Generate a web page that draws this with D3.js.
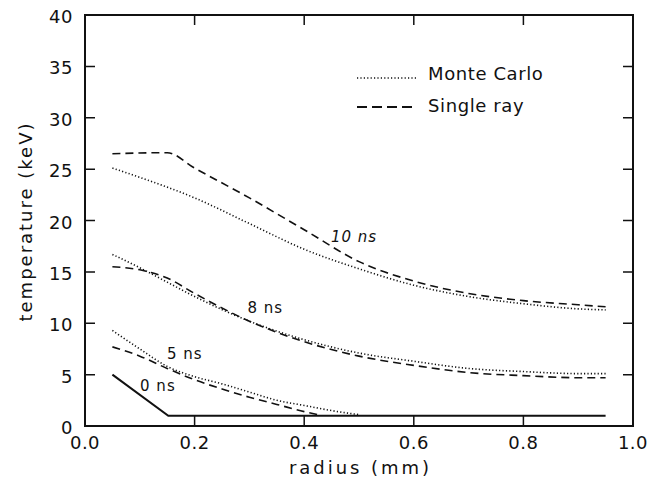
<!DOCTYPE html>
<html>
<head>
<meta charset="utf-8">
<script src="https://cdn.jsdelivr.net/npm/d3@7"></script>
<style>
  body { margin: 0; background: #fff; }
  text { font-family: "DejaVu Sans", sans-serif; fill: #111; }
</style>
</head>
<body>
<div id="chart"></div>
<script>
// data: radius (mm) and temperature (keV)
var xTicks = [0.0, 0.2, 0.4, 0.6, 0.8, 1.0];
var yTicks = [0, 5, 10, 15, 20, 25, 30, 35, 40];

var r0solid = [0.05, 0.152, 0.95];
var t0solid = [5.0, 1.0, 1.0];

var r5mc = [0.05, 0.1, 0.15, 0.2, 0.25, 0.3, 0.35, 0.4, 0.45, 0.5];
var t5mc = [9.3, 7.5, 5.8, 4.8, 4.1, 3.3, 2.5, 2.0, 1.5, 1.1];
var r5sr = [0.05, 0.1, 0.15, 0.2, 0.25, 0.3, 0.35, 0.4, 0.43];
var t5sr = [7.7, 6.8, 5.6, 4.5, 3.6, 2.8, 2.1, 1.4, 1.05];

var r8mc = [0.05, 0.1, 0.15, 0.2, 0.3, 0.4, 0.5, 0.6, 0.7, 0.8, 0.9, 0.95];
var t8mc = [16.7, 15.4, 14.0, 12.6, 10.2, 8.4, 7.1, 6.3, 5.6, 5.3, 5.1, 5.1];
var r8sr = [0.05, 0.1, 0.15, 0.2, 0.3, 0.4, 0.5, 0.6, 0.7, 0.8, 0.9, 0.95];
var t8sr = [15.5, 15.2, 14.4, 12.9, 10.2, 8.2, 6.8, 5.9, 5.2, 4.9, 4.7, 4.7];

var r10mc = [0.05, 0.1, 0.2, 0.3, 0.4, 0.5, 0.6, 0.7, 0.8, 0.9, 0.95];
var t10mc = [25.1, 24.2, 22.2, 19.7, 17.2, 15.3, 13.7, 12.6, 11.9, 11.4, 11.3];
var r10sr = [0.05, 0.15, 0.2, 0.3, 0.4, 0.5, 0.6, 0.7, 0.8, 0.9, 0.95];
var t10sr = [26.5, 26.6, 25.1, 22.2, 19.1, 16.0, 14.1, 12.9, 12.2, 11.8, 11.6];

var curveLabels = ["10 ns", "8 ns", "5 ns", "0 ns"];
var labelPos = [[0.491, 17.9], [0.329, 11.0], [0.182, 6.5], [0.133, 3.4]];

var legendNames = ["Monte Carlo", "Single ray"];

var W = 651, H = 488;
var margin = {top: 15, right: 18, bottom: 62, left: 85};
var w = W - margin.left - margin.right,
    h = H - margin.top - margin.bottom;

var svg = d3.select("#chart").append("svg")
  .attr("width", W).attr("height", H);
svg.append("rect").attr("width", W).attr("height", H).attr("fill", "#fff");

var g = svg.append("g")
  .attr("transform", "translate(" + margin.left + "," + margin.top + ")");

var x = d3.scaleLinear().domain([0, 1]).range([0, w]);
var y = d3.scaleLinear().domain([0, 40]).range([h, 0]);

// frame
g.append("rect")
  .attr("width", w).attr("height", h)
  .attr("fill", "none").attr("stroke", "#111").attr("stroke-width", 2);

// ticks pointing inward on all four sides
var tl = 10;
g.selectAll(".xt").data(xTicks.slice(1, -1)).enter().append("path")
  .attr("d", function(d) { return "M" + x(d) + "," + h + "v" + (-tl) + "M" + x(d) + ",0v" + tl; })
  .attr("stroke", "#111").attr("stroke-width", 1.5);
g.selectAll(".yt").data(yTicks.slice(1, -1)).enter().append("path")
  .attr("d", function(d) { return "M0," + y(d) + "h" + tl + "M" + w + "," + y(d) + "h" + (-tl); })
  .attr("stroke", "#111").attr("stroke-width", 1.5);

// tick labels
g.selectAll(".xl").data(xTicks).enter().append("text")
  .attr("x", function(d) { return x(d); })
  .attr("y", h + 23)
  .attr("text-anchor", "middle")
  .style("font-size", "18px")
  .style("letter-spacing", "0.5px")
  .text(function(d) { return d.toFixed(1); });

g.selectAll(".yl").data(yTicks).enter().append("text")
  .attr("x", -12)
  .attr("y", function(d) { return y(d) + 8; })
  .attr("text-anchor", "end")
  .style("font-size", "18px")
  .style("letter-spacing", "0.5px")
  .text(function(d) { return d; });

// axis titles
g.append("text")
  .attr("x", w / 2).attr("y", h + 48)
  .attr("text-anchor", "middle")
  .attr("textLength", 140).attr("lengthAdjust", "spacing")
  .style("font-size", "18px")
  .text("radius (mm)");

svg.append("text")
  .attr("transform", "translate(32," + (margin.top + h / 2 + 2) + ") rotate(-90)")
  .attr("text-anchor", "middle")
  .attr("textLength", 198).attr("lengthAdjust", "spacing")
  .style("font-size", "18px")
  .text("temperature (keV)");

// curves
var line = d3.line()
  .x(function(d) { return x(d[0]); })
  .y(function(d) { return y(d[1]); });
var smooth = d3.line()
  .x(function(d) { return x(d[0]); })
  .y(function(d) { return y(d[1]); })
  .curve(d3.curveMonotoneX);

function pairs(rs, ts) { return rs.map(function(r, i) { return [r, ts[i]]; }); }

var dotted = "1.2,2.2", dashed = "8,5";

function drawCurve(rs, ts, dash, gen) {
  g.append("path")
    .datum(pairs(rs, ts))
    .attr("d", gen)
    .attr("fill", "none")
    .attr("stroke", "#111")
    .attr("stroke-width", dash ? 1.6 : 2)
    .attr("stroke-dasharray", dash);
}

drawCurve(r0solid, t0solid, null, line);
drawCurve(r5mc, t5mc, dotted, smooth);
drawCurve(r5sr, t5sr, dashed, smooth);
drawCurve(r8mc, t8mc, dotted, smooth);
drawCurve(r8sr, t8sr, dashed, smooth);
drawCurve(r10mc, t10mc, dotted, smooth);
drawCurve(r10sr, t10sr, dashed, smooth);

// curve labels
g.selectAll(".cl").data(curveLabels).enter().append("text")
  .attr("x", function(d, i) { return x(labelPos[i][0]); })
  .attr("y", function(d, i) { return y(labelPos[i][1]); })
  .attr("text-anchor", "middle")
  .style("font-size", "15px")
  .style("letter-spacing", "1px")
  .style("font-style", function(d, i) { return i === 0 ? "italic" : "normal"; })
  .text(function(d) { return d; });

// legend
var legend = svg.append("g").attr("transform", "translate(357,0)");
var legY = [78, 107];
legend.selectAll("line").data(legendNames).enter().append("line")
  .attr("x1", 0).attr("x2", 60)
  .attr("y1", function(d, i) { return legY[i]; })
  .attr("y2", function(d, i) { return legY[i]; })
  .attr("stroke", "#111")
  .attr("stroke-width", function(d, i) { return i === 0 ? 1.6 : 2; })
  .attr("stroke-dasharray", function(d, i) { return i === 0 ? dotted : "10,5"; });
legend.selectAll("text").data(legendNames).enter().append("text")
  .attr("x", 71)
  .attr("y", function(d, i) { return i === 0 ? 80 : 112; })
  .style("font-size", "18px")
  .style("letter-spacing", "0.6px")
  .text(function(d) { return d; });
</script>
</body>
</html>
